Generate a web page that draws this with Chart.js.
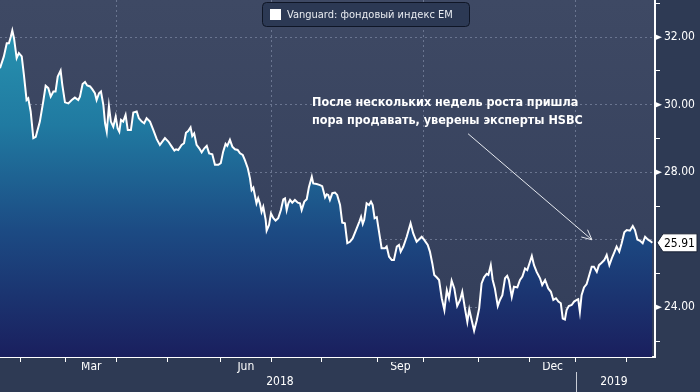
<!DOCTYPE html>
<html>
<head>
<meta charset="utf-8">
<script src="https://cdn.jsdelivr.net/npm/chart.js@4.4.1/dist/chart.umd.min.js"></script>
<style>
  html, body { margin: 0; padding: 0; background: #2e3a54; }
  canvas { display: block; }
</style>
</head>
<body>
<canvas id="chart" width="700" height="392"></canvas>
<script>
// series: trading-session number (0 = 2 Jan 2018) and close price
const seriesLabel = 'Vanguard: фондовый индекс EM';
const sessions = [
  12.7, 14.3, 15.5, 16.4, 17.2, 17.8, 18.5, 19.6, 20.5, 21.7, 22.6, 23.7, 24.4, 25.4, 26.5, 27.5,
  29.2, 30.6, 31.6, 32.7, 33.7, 34.8, 35.7, 36.6, 37.8, 38.5, 39.6, 41.0, 42.4, 43.7, 45.1, 45.8,
  46.9, 47.9, 48.8, 50.0, 50.9, 52.0, 52.7, 53.7, 54.5, 55.5, 56.2, 56.9, 57.8, 58.6, 59.6, 60.6,
  61.4, 62.1, 62.8, 63.7, 64.7, 65.6, 66.9, 67.9, 69.3, 70.2, 71.4, 72.4, 73.4, 74.8, 76.2, 77.6,
  78.9, 81.0, 82.4, 83.8, 84.9, 85.6, 86.5, 87.9, 88.9, 89.7, 90.6, 91.6, 92.3, 93.1, 94.1, 95.2,
  96.2, 97.3, 98.3, 99.3, 100.6, 101.7, 103.1, 104.1, 105.1, 106.1, 106.8, 107.9, 108.9, 110.0, 111.1, 112.1,
  113.2, 114.1, 115.3, 116.2, 116.9, 117.6, 118.9, 119.6, 120.3, 121.0, 121.7, 122.7, 123.1, 124.1, 124.9, 125.9,
  126.8, 127.9, 129.0, 130.0, 130.7, 131.4, 132.1, 132.8, 133.7, 134.8, 136.0, 136.9, 137.6, 138.7, 139.7, 140.6,
  141.8, 142.4, 143.8, 145.2, 146.1, 147.3, 148.0, 148.6, 149.3, 150.3, 151.4, 152.3, 153.5, 154.4, 155.5, 156.5,
  157.6, 158.7, 160.1, 161.5, 162.2, 162.9, 163.5, 164.5, 165.5, 166.3, 167.0, 167.8, 168.7, 169.3, 170.7, 172.1,
  172.8, 173.8, 174.9, 175.8, 177.0, 177.9, 178.6, 179.7, 181.1, 182.7, 183.8, 185.2, 186.6, 187.3, 188.2, 189.8,
  190.7, 191.7, 192.5, 193.5, 194.5, 195.6, 196.7, 197.7, 198.6, 199.7, 200.8, 202.0, 203.2, 204.1, 205.2, 206.2,
  207.0, 208.0, 209.0, 210.1, 211.1, 212.1, 213.1, 214.2, 214.9, 215.9, 216.7, 217.6, 218.8, 219.7, 220.7, 221.8,
  222.7, 223.4, 224.6, 225.5, 226.9, 228.0, 229.0, 230.1, 231.0, 231.9, 232.9, 233.8, 234.9, 236.3, 237.2, 238.4,
  239.7, 240.8, 241.8, 242.9, 243.9, 244.9, 245.7, 246.6, 247.3, 248.2, 249.4, 250.4, 251.5, 252.1, 252.8, 253.5,
  254.5, 255.6, 256.7, 257.7, 258.6, 259.8, 260.7, 261.8, 262.9, 263.9, 265.0, 266.0, 267.0, 268.0, 269.1, 270.1,
  271.2, 272.2, 273.5, 274.7, 275.6, 276.6, 277.7, 278.8, 279.8, 280.9, 281.8, 282.8
];
const prices = [
  31.08, 31.43, 31.82, 31.82, 32.02, 32.20, 31.97, 31.38, 31.53, 31.43, 30.88, 30.14, 30.19, 29.80, 29.01, 29.05,
  29.50, 30.09, 30.56, 30.49, 30.24, 30.39, 30.39, 30.83, 31.01, 30.59, 30.07, 30.04, 30.14, 30.21, 30.14, 30.24,
  30.61, 30.67, 30.57, 30.54, 30.46, 30.34, 30.14, 30.34, 30.39, 29.99, 29.45, 29.20, 29.96, 29.50, 29.35, 29.65,
  29.30, 29.20, 29.55, 29.50, 29.70, 29.25, 29.25, 29.77, 29.80, 29.60, 29.50, 29.45, 29.60, 29.50, 29.25, 28.98,
  28.81, 29.01, 28.91, 28.76, 28.64, 28.68, 28.66, 28.81, 28.86, 29.17, 29.22, 29.33, 29.07, 29.15, 28.81, 28.71,
  28.59, 28.71, 28.78, 28.56, 28.53, 28.22, 28.22, 28.27, 28.61, 28.84, 28.78, 28.96, 28.76, 28.68, 28.66, 28.56,
  28.51, 28.36, 28.12, 27.82, 27.47, 27.54, 27.08, 27.23, 27.08, 26.83, 26.98, 26.59, 26.27, 26.44, 26.78, 26.64,
  26.57, 26.64, 26.88, 27.20, 27.23, 26.88, 27.08, 27.18, 27.10, 27.18, 27.10, 27.08, 26.88, 27.13, 27.20, 27.56,
  27.87, 27.67, 27.65, 27.62, 27.59, 27.26, 27.35, 27.33, 27.18, 27.38, 27.40, 27.33, 27.03, 26.51, 26.49, 25.90,
  25.94, 26.04, 26.29, 26.54, 26.68, 26.47, 26.59, 27.08, 27.03, 27.13, 27.03, 26.64, 26.67, 26.39, 25.75, 25.75,
  25.80, 25.50, 25.40, 25.40, 25.80, 25.85, 25.65, 25.80, 26.09, 26.49, 26.19, 25.94, 26.04, 26.09, 26.01, 25.85,
  25.65, 25.30, 24.96, 24.89, 24.81, 24.27, 23.92, 24.51, 24.27, 24.79, 24.56, 24.04, 24.22, 24.46, 23.97, 23.57,
  23.94, 23.62, 23.31, 23.62, 23.97, 24.71, 24.89, 24.99, 24.96, 25.25, 24.81, 24.56, 24.04, 24.22, 24.36, 24.86,
  24.93, 24.81, 24.31, 24.61, 24.59, 24.81, 24.91, 25.15, 25.10, 25.30, 25.52, 25.25, 25.05, 24.86, 24.66, 24.81,
  24.56, 24.46, 24.22, 24.27, 24.17, 24.12, 23.67, 23.64, 23.92, 24.04, 24.07, 24.17, 24.22, 24.24, 23.87, 24.36,
  24.59, 24.69, 24.96, 25.20, 25.20, 25.05, 25.25, 25.32, 25.40, 25.55, 25.25, 25.45, 25.62, 25.80, 25.65, 25.90,
  26.22, 26.29, 26.27, 26.41, 26.29, 26.01, 25.97, 25.90, 26.09, 26.01, 25.97, 25.91
];

// axes
const xMin = 12.7, xMax = 283.9;
const yMin = 22.53, yMax = 33.1;
const monthStarts = [21, 40, 61, 82, 104, 125, 146, 169, 188, 211, 232, 251, 272];
const quarterStarts = [61, 125, 188, 251];
const monthLabelPos = [50.5, 114.5, 178.5, 241.5];
const monthLabels = ['Mar', 'Jun', 'Sep', 'Dec'];
const yearLabelPos = [128.6, 266.9];
const yearLabels = ['2018', '2019'];
const yearBreak = 251;
const yTicks = [23, 24, 25, 26, 27, 28, 29, 30, 31, 32, 33];
const yGridAt = [24, 26, 28, 30, 32];
const yLabelled = [24, 28, 30, 32];

// annotation
const noteLines = ['После нескольких недель роста пришла', 'пора продавать, уверены эксперты HSBC'];
const noteFrom = { x: 206.5, y: 29.14 };
const noteTo = { x: 257.8, y: 26.0 };

const FONT = "'DejaVu Sans Condensed', 'DejaVu Sans', sans-serif";
const gridColor = '#6a7590';

const noPad = s => { s.paddingTop = 0; s.paddingBottom = 0; s.paddingLeft = 0; s.paddingRight = 0; };

const decor = {
  id: 'decor',
  beforeDraw(chart) {
    const { ctx, chartArea: a } = chart;
    ctx.save();
    ctx.fillStyle = '#2e3a54';
    ctx.fillRect(0, 0, chart.width, chart.height);
    const g = ctx.createLinearGradient(0, a.top, 0, a.bottom);
    g.addColorStop(0, '#3e4964');
    g.addColorStop(1, '#333e5a');
    ctx.fillStyle = g;
    ctx.fillRect(a.left, a.top, a.right - a.left, a.bottom - a.top);
    ctx.restore();
  },
  afterDraw(chart) {
    const { ctx, chartArea: a } = chart;
    const xs = chart.scales.x, ys = chart.scales.y, yr = chart.scales.xy;
    ctx.save();

    // tick arrows on the price axis
    ctx.fillStyle = '#ffffff';
    yLabelled.forEach(v => {
      const py = ys.getPixelForValue(v);
      ctx.beginPath();
      ctx.moveTo(a.right, py - 3);
      ctx.lineTo(a.right, py + 3);
      ctx.lineTo(a.right + 7, py);
      ctx.closePath();
      ctx.fill();
    });

    // last price tag
    const last = prices[prices.length - 1];
    const ly = ys.getPixelForValue(last);
    ctx.beginPath();
    ctx.moveTo(a.right + 2, ly);
    ctx.lineTo(a.right + 8, ly - 9);
    ctx.lineTo(a.right + 42, ly - 9);
    ctx.lineTo(a.right + 42, ly + 9);
    ctx.lineTo(a.right + 8, ly + 9);
    ctx.closePath();
    ctx.fillStyle = '#ffffff';
    ctx.fill();
    ctx.strokeStyle = '#1a2235';
    ctx.lineWidth = 1;
    ctx.stroke();
    ctx.fillStyle = '#000000';
    ctx.font = '12px ' + FONT;
    ctx.textBaseline = 'middle';
    ctx.textAlign = 'left';
    ctx.fillText(last.toFixed(2), a.right + 9, ly + 1);

    // year separator
    const bx = Math.round(xs.getPixelForValue(yearBreak)) + 0.5;
    ctx.strokeStyle = '#c8ccd6';
    ctx.beginPath();
    ctx.moveTo(bx, yr.top - 2);
    ctx.lineTo(bx, chart.height);
    ctx.stroke();

    // legend
    ctx.beginPath();
    ctx.roundRect(262.5, 2.5, 207, 24, 4);
    ctx.fillStyle = '#2c3954';
    ctx.fill();
    ctx.strokeStyle = '#0f1626';
    ctx.stroke();
    ctx.fillStyle = '#ffffff';
    ctx.fillRect(270, 9, 11, 11);
    ctx.font = '11px ' + FONT;
    ctx.fillStyle = '#e8ebf0';
    ctx.fillText(seriesLabel, 287, 15);

    // annotation
    ctx.font = 'bold 12.5px ' + FONT;
    ctx.fillStyle = '#ffffff';
    noteLines.forEach((t, i) => ctx.fillText(t, 312, 103 + i * 18));
    const x1 = xs.getPixelForValue(noteFrom.x), y1 = ys.getPixelForValue(noteFrom.y);
    const x2 = xs.getPixelForValue(noteTo.x), y2 = ys.getPixelForValue(noteTo.y);
    ctx.strokeStyle = '#e6e9ef';
    ctx.lineWidth = 1;
    ctx.beginPath();
    ctx.moveTo(x1, y1);
    ctx.lineTo(x2, y2);
    const ang = Math.atan2(y2 - y1, x2 - x1);
    [0.45, -0.45].forEach(d => {
      ctx.moveTo(x2, y2);
      ctx.lineTo(x2 - 11 * Math.cos(ang + d), y2 - 11 * Math.sin(ang + d));
    });
    ctx.stroke();
    ctx.restore();
  }
};

const ctx = document.getElementById('chart').getContext('2d');
new Chart(ctx, {
  type: 'line',
  data: {
    datasets: [{
      label: seriesLabel,
      data: sessions.map((s, i) => ({ x: s, y: prices[i] })),
      borderColor: '#ffffff',
      borderWidth: 2,
      pointRadius: 0,
      tension: 0,
      fill: 'start',
      backgroundColor: (c) => {
        const a = c.chart.chartArea;
        if (!a) return 'transparent';
        const g = c.chart.ctx.createLinearGradient(0, a.top, 0, a.bottom);
        g.addColorStop(0, '#2a9ab4');
        g.addColorStop(0.35, '#207aa1');
        g.addColorStop(0.65, '#1c4a83');
        g.addColorStop(1, '#1a1f5e');
        return g;
      }
    }]
  },
  options: {
    responsive: false,
    animation: false,
    devicePixelRatio: 1,
    layout: { padding: 0 },
    plugins: { legend: { display: false }, tooltip: { enabled: false } },
    scales: {
      x: {
        type: 'linear', position: 'bottom', min: xMin, max: xMax, weight: 0, z: 1,
        afterBuildTicks: s => { s.ticks = monthStarts.map(v => ({ value: v })); },
        afterFit: s => { s.height = 5; noPad(s); },
        ticks: { display: false },
        grid: {
          color: c => (c.tick && quarterStarts.includes(c.tick.value)) ? gridColor : 'transparent',
          tickColor: '#ffffff', tickLength: 5, tickBorderDash: [], lineWidth: 1
        },
        border: { display: true, color: '#ffffff', width: 2, dash: [2, 3] }
      },
      xm: {
        type: 'linear', position: 'bottom', min: xMin, max: xMax, weight: 1,
        afterBuildTicks: s => { s.ticks = monthLabelPos.map(v => ({ value: v })); },
        afterFit: s => { s.height = 12; noPad(s); },
        grid: { display: false, drawTicks: false },
        border: { display: false },
        ticks: {
          color: '#ffffff', padding: -1, autoSkip: false, maxRotation: 0,
          font: { family: FONT, size: 12, lineHeight: 1 },
          callback: (v, i) => monthLabels[i]
        }
      },
      xy: {
        type: 'linear', position: 'bottom', min: xMin, max: xMax, weight: 2,
        afterBuildTicks: s => { s.ticks = yearLabelPos.map(v => ({ value: v })); },
        afterFit: s => { s.height = 18; noPad(s); },
        grid: { display: false, drawTicks: false },
        border: { display: false },
        ticks: {
          color: '#ffffff', padding: 2, autoSkip: false, maxRotation: 0,
          font: { family: FONT, size: 12, lineHeight: 1 },
          callback: (v, i) => yearLabels[i]
        }
      },
      y: {
        type: 'linear', position: 'right', min: yMin, max: yMax, z: 1,
        afterBuildTicks: s => { s.ticks = yTicks.map(v => ({ value: v })); },
        afterFit: s => { s.width = 45; noPad(s); },
        ticks: {
          color: '#ffffff', padding: 4, autoSkip: false,
          font: { family: FONT, size: 12 },
          callback: v => yLabelled.includes(v) ? v.toFixed(2) : ''
        },
        grid: {
          color: c => (c.tick && yGridAt.includes(c.tick.value)) ? gridColor : 'transparent',
          tickColor: c => (c.tick && yGridAt.includes(c.tick.value)) ? 'transparent' : '#ffffff',
          tickLength: 5, tickBorderDash: [], lineWidth: 1
        },
        border: { display: true, color: '#ffffff', width: 2, dash: [2, 3] }
      }
    }
  },
  plugins: [decor]
});
</script>
</body>
</html>
